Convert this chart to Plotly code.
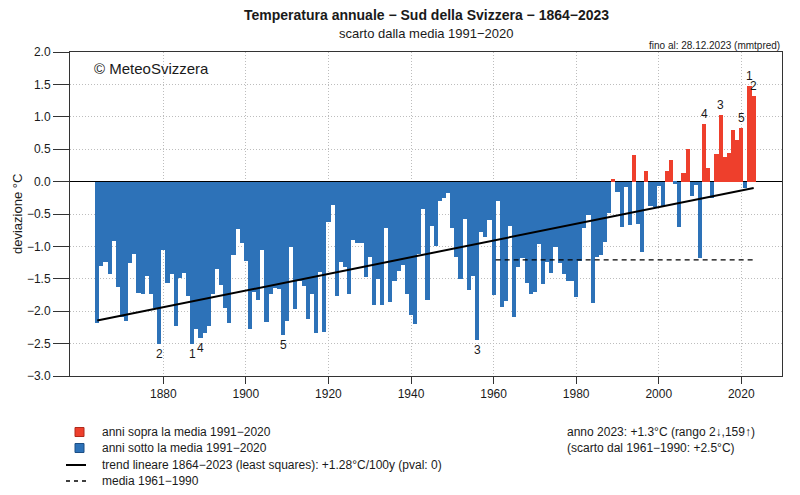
import numpy as np
import plotly.graph_objects as go

# ---------------- data ----------------
years = list(range(1864, 2024))
anomalies = [
    # 1864-1873
    -2.18, -1.30, -1.24, -1.42, -0.92, -1.63, -2.09, -2.15, -1.26, -1.12,
    # 1874-1883
    -1.72, -1.74, -1.45, -1.74, -1.95, -2.50, -1.05, -1.56, -1.43, -2.23,
    # 1884-1893
    -1.49, -1.41, -1.76, -2.51, -2.28, -2.41, -2.33, -2.23, -1.73, -1.35,
    # 1894-1903
    -1.59, -1.95, -2.18, -1.13, -0.73, -0.94, -1.23, -2.27, -1.70, -1.83,
    # 1904-1913
    -1.05, -2.17, -1.74, -1.64, -1.66, -2.37, -2.15, -1.01, -1.96, -1.53,
    # 1914-1923
    -1.61, -2.12, -1.74, -2.34, -1.40, -2.32, -0.63, -0.36, -1.77, -1.24,
    # 1924-1933
    -1.32, -1.74, -0.90, -0.95, -0.94, -1.47, -1.17, -1.90, -1.51, -1.90,
    # 1934-1943
    -0.72, -1.86, -1.54, -1.38, -1.29, -1.73, -2.06, -2.19, -1.12, -0.42,
    # 1944-1953
    -1.83, -0.68, -1.00, -0.30, -0.25, -0.18, -0.72, -1.16, -1.50, -0.58,
    # 1954-1963
    -1.67, -1.45, -2.45, -0.78, -0.85, -0.59, -1.75, -0.30, -1.94, -1.84,
    # 1964-1973
    -0.68, -2.09, -1.32, -1.18, -1.56, -1.73, -1.70, -0.96, -1.58, -1.24,
    # 1974-1983
    -1.41, -1.01, -1.25, -1.43, -1.53, -1.54, -1.78, -1.23, -0.71, -0.52,
    # 1984-1993
    -1.88, -1.17, -1.13, -0.93, -0.49, 0.04, -0.16, -0.70, -0.09, -0.67,
    # 1994-2003
    0.41, -0.65, -1.09, 0.17, -0.37, -0.39, -0.07, -0.37, 0.16, 0.34,
    # 2004-2013
    -0.03, -0.70, 0.14, 0.50, -0.22, -0.05, -1.18, 0.89, 0.21, -0.26,
    # 2014-2023
    0.43, 1.03, 0.38, 0.44, 0.79, 0.64, 0.83, -0.10, 1.48, 1.32,
]
ref_period = (1961, 1990)
y_ticks = [2.0, 1.5, 1.0, 0.5, 0.0, -0.5, -1.0, -1.5, -2.0, -2.5, -3.0]
x_ticks = [1880, 1900, 1920, 1940, 1960, 1980, 2000, 2020]

title_text = "Temperatura annuale \u2212 Sud della Svizzera \u2212 1864\u22122023"
subtitle_text = "scarto dalla media 1991\u22122020"
legend_texts = [
    "anni sopra la media 1991\u22122020",
    "anni sotto la media 1991\u22122020",
    "trend lineare 1864\u22122023 (least squares): +1.28\u00b0C/100y (pval: 0)",
    "media 1961\u22121990",
]

# ---------------- styling ----------------
RED = "#EE3F2C"
BLUE = "#2D72B8"
TXT = "#1a1a1a"
FONT = "Liberation Sans, Arial, Helvetica, sans-serif"

# the page body has an 8px margin: size the figure so it fills the 800x495 window
OFF = 8
W, H = 800 - OFF, 495 - OFF
REF_L, REF_T, REF_R, REF_B = 70, 52, 782, 376   # plot frame in window pixels
ML, MT = REF_L - OFF, REF_T - OFF
MR, MB = 800 - REF_R, 495 - REF_B
PW, PH = REF_R - REF_L, REF_B - REF_T


def px(X):
    return (X - REF_L) / PW


def py(Y):
    return (REF_B - Y) / PH


yrs = np.array(years)
vals = np.array(anomalies)
pos = vals >= 0

fig = go.Figure()
fig.add_bar(x=yrs[pos], y=vals[pos], width=1.0, marker=dict(color=RED, line=dict(width=0)),
            showlegend=False, hoverinfo="x+y")
fig.add_bar(x=yrs[~pos], y=vals[~pos], width=1.0, marker=dict(color=BLUE, line=dict(width=0)),
            showlegend=False, hoverinfo="x+y")

# linear trend (least squares)
coef = np.polyfit(yrs, vals, 1)
tx = np.array([yrs[0], yrs[-1]])
fig.add_scatter(x=tx, y=np.polyval(coef, tx), mode="lines",
                line=dict(color="black", width=2), showlegend=False, hoverinfo="skip")

# mean 1961-1990
msk = (yrs >= ref_period[0]) & (yrs <= ref_period[1])
mean_ref = vals[msk].mean()
fig.add_scatter(x=[ref_period[0] - 0.5, yrs[-1] + 0.5], y=[mean_ref, mean_ref], mode="lines",
                line=dict(color="black", width=1.3, dash="5px,4px"), showlegend=False, hoverinfo="skip")

annotations = []
# rank labels (coldest below, warmest above)
order = np.argsort(vals)
for r, i in enumerate(order[:5]):
    annotations.append(dict(x=yrs[i], y=vals[i], text=str(r + 1), showarrow=False,
                            yanchor="middle", yshift=-10, font=dict(size=12, color=TXT)))
for r, i in enumerate(order[::-1][:5]):
    annotations.append(dict(x=yrs[i], y=vals[i], text=str(r + 1), showarrow=False,
                            yanchor="middle", yshift=10, font=dict(size=12, color=TXT)))

# titles
annotations.append(dict(xref="paper", yref="paper", x=0.5, y=1, yshift=REF_T - 15, xanchor="center",
                        yanchor="middle", text="<b>" + title_text + "</b>",
                        showarrow=False, font=dict(size=14, color=TXT)))
annotations.append(dict(xref="paper", yref="paper", x=0.5, y=1, yshift=REF_T - 33, xanchor="center",
                        yanchor="middle", text=subtitle_text,
                        showarrow=False, font=dict(size=13, color=TXT)))
annotations.append(dict(xref="paper", yref="paper", x=1, y=1, yshift=REF_T - 45, xanchor="right",
                        yanchor="middle", text="fino al: 28.12.2023 (mmtpred)", showarrow=False,
                        font=dict(size=10, color=TXT)))
annotations.append(dict(xref="paper", yref="paper", x=px(92), y=py(68), xanchor="left",
                        yanchor="middle", text="\u00a9 MeteoSvizzera", showarrow=False,
                        font=dict(size=15, color=TXT)))
annotations.append(dict(xref="paper", yref="paper", x=px(17), y=py(214), xanchor="center",
                        yanchor="middle", textangle=-90,
                        text="deviazione \u00b0C", showarrow=False, font=dict(size=13, color=TXT)))

# legend (manual)
leg_y = [432, 448, 465, 481]
for t, Y in zip(legend_texts, leg_y):
    annotations.append(dict(xref="paper", yref="paper", x=px(100), y=py(Y), xanchor="left",
                            yanchor="middle", text=t, showarrow=False, font=dict(size=12, color=TXT)))

last = vals[-1]
rank_down = int((vals > last).sum() + 1)
rank_up = int((vals < last).sum() + 1)
info1 = f"anno {years[-1]}: {last:+.1f}\u00b0C (rango {rank_down}\u2193,{rank_up}\u2191)"
info2 = f"(scarto dal 1961\u22121990: {last - mean_ref:+.1f}\u00b0C)"
for t, Y in zip([info1, info2], leg_y[:2]):
    annotations.append(dict(xref="paper", yref="paper", x=px(565), y=py(Y), xanchor="left",
                            yanchor="middle", text=t, showarrow=False, font=dict(size=12, color=TXT)))

shapes = [
    dict(type="rect", xref="paper", yref="paper", x0=px(75), x1=px(84), y0=py(436.5), y1=py(427.5),
         fillcolor=RED, line=dict(color="#b02a1c", width=1)),
    dict(type="rect", xref="paper", yref="paper", x0=px(75), x1=px(84), y0=py(452.5), y1=py(443.5),
         fillcolor=BLUE, line=dict(color="#1d4f85", width=1)),
    dict(type="line", xref="paper", yref="paper", x0=px(66), x1=px(86), y0=py(465), y1=py(465),
         line=dict(color="black", width=2)),
    dict(type="line", xref="paper", yref="paper", x0=px(66), x1=px(86), y0=py(481), y1=py(481),
         line=dict(color="black", width=1.3, dash="4px,4px")),
]

fig.update_layout(
    width=W, height=H,
    margin=dict(l=ML, r=MR, t=MT, b=MB, pad=0, autoexpand=False),
    paper_bgcolor="white", plot_bgcolor="white",
    barmode="relative", bargap=0,
    font=dict(family=FONT, size=12, color=TXT),
    showlegend=False,
    annotations=annotations,
    shapes=shapes,
    xaxis=dict(range=[1857.4, 2029.86], tickvals=x_ticks, ticks="outside", ticklen=7, tickwidth=1,
               tickcolor="#333", showline=True, linecolor="#333", linewidth=1, mirror=True,
               showgrid=True, gridcolor="#bdbdbd", griddash="1px,2px", gridwidth=1, zeroline=False,
               tickfont=dict(size=12, color=TXT)),
    yaxis=dict(range=[-3, 2], tickvals=y_ticks, tickformat=".1f", ticks="outside", ticklen=16,
               tickwidth=1, tickcolor="#333", showline=True, linecolor="#333", linewidth=1, mirror=True,
               showgrid=True, gridcolor="#bdbdbd", griddash="1px,2px", gridwidth=1,
               zeroline=True, zerolinecolor="black", zerolinewidth=1.3,
               tickfont=dict(size=12, color=TXT)),
)

fig.write_html("out.html")
